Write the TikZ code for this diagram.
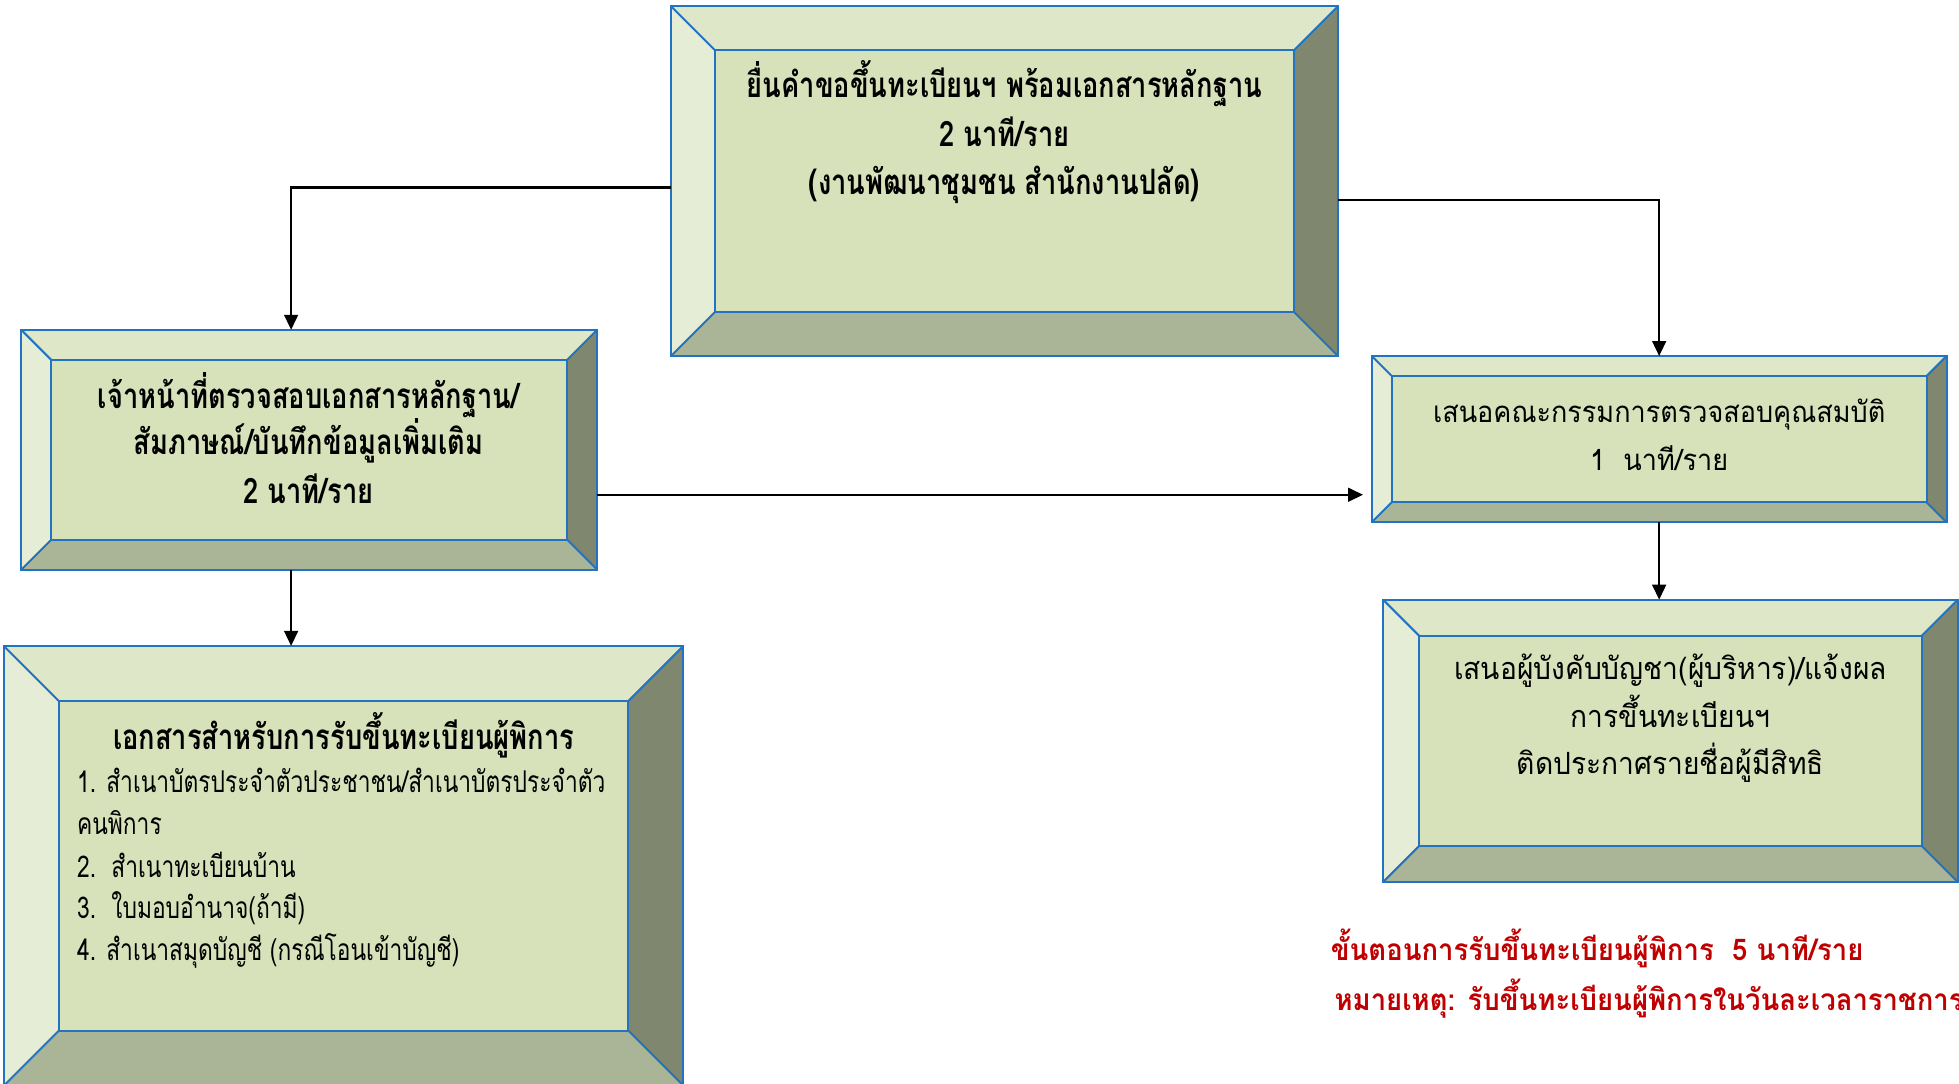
\documentclass[tikz,border=0pt]{standalone}
\usepackage{fontspec}
\usetikzlibrary{arrows.meta,fit,calc}
\newfontfamily\thA[Script=Thai,FakeStretch=0.78]{Loma}
\newfontfamily\thC[Script=Thai,FakeStretch=0.76]{Loma}
\newfontfamily\thB[Script=Thai,FakeStretch=0.92]{Loma}
\definecolor{cTop}{HTML}{DFE7C9}
\definecolor{cLeft}{HTML}{E6EDD6}
\definecolor{cMid}{HTML}{D7E1BA}
\definecolor{cBot}{HTML}{AAB597}
\definecolor{cRight}{HTML}{7F886F}
\definecolor{cLine}{HTML}{2273C1}
\definecolor{cRed}{HTML}{C00000}
\newcommand\bevbox[6]{%
  \pgfmathsetmacro\ax{#2+#6}\pgfmathsetmacro\ay{#3+#6}%
  \pgfmathsetmacro\bx{#4-#6}\pgfmathsetmacro\by{#5-#6}%
  \fill[cTop] (#2,#3) -- (#4,#3) -- (\bx,\ay) -- (\ax,\ay) -- cycle;
  \fill[cLeft] (#2,#3) -- (\ax,\ay) -- (\ax,\by) -- (#2,#5) -- cycle;
  \fill[cBot] (#2,#5) -- (\ax,\by) -- (\bx,\by) -- (#4,#5) -- cycle;
  \fill[cRight] (#4,#3) -- (#4,#5) -- (\bx,\by) -- (\bx,\ay) -- cycle;
  \fill[cMid] (\ax,\ay) rectangle (\bx,\by);
  \draw[bline] (#2,#3) -- (\ax,\ay) (#4,#3) -- (\bx,\ay) (#2,#5) -- (\ax,\by) (#4,#5) -- (\bx,\by);
  \draw[bline] (\ax,\ay) rectangle (\bx,\by);
  \node[boxframe, fit={(#2,#3) (#4,#5)}] (#1) {};
}
\newcommand\txtline[4]{\node[tx,#4] (#1) at (#2) {#3};}
\begin{document}
\begin{tikzpicture}[x=1pt,y=-1pt,
  bline/.style={draw=cLine, line width=1.6pt, line join=miter},
  boxframe/.style={draw=cLine, line width=1.6pt, inner sep=0pt, outer sep=0pt},
  tx/.style={inner sep=0pt, anchor=base, text=black},
  bt/.style={font=\thA\bfseries\fontsize{28}{32}\selectfont},
  rt/.style={font=\thB\fontsize{23.5}{27}\selectfont},
  rtb/.style={font=\thB\fontsize{24.5}{28}\selectfont},
  it/.style={font=\thC\fontsize{24}{28}\selectfont, anchor=base west},
  red/.style={font=\thB\bfseries\fontsize{23.9}{28}\selectfont, text=cRed, anchor=base west},
  arr/.style={line width=1.8pt, -{Triangle[length=12pt,width=11pt]}}]
\clip (0,0) rectangle (1568,867);
\fill[white] (0,0) rectangle (1568,867);

\bevbox{top}{537}{5}{1071}{285}{35}
\bevbox{lbox}{17}{264}{478}{456}{24}
\bevbox{bl}{3}{517}{547}{869}{44}
\bevbox{ra}{1098}{285}{1558}{418}{16}
\bevbox{rb}{1107}{480}{1567}{706}{29}

% top box text
\txtline{ta}{804,78}{ยื่นคำขอขึ้นทะเบียนฯ พร้อมเอกสารหลักฐาน}{bt}
\txtline{tb}{804,117}{2 นาที/ราย}{bt}
\txtline{tc}{804,156}{(งานพัฒนาชุมชน สำนักงานปลัด)}{bt}
% left box text
\txtline{la}{247,327}{เจ้าหน้าที่ตรวจสอบเอกสารหลักฐาน/}{bt}
\txtline{lb}{247,364}{สัมภาษณ์/บันทึกข้อมูลเพิ่มเติม}{bt}
\txtline{lc}{247,403}{2 นาที/ราย}{bt}
% bottom-left box text
\txtline{ba}{275,600}{เอกสารสำหรับการรับขึ้นทะเบียนผู้พิการ}{bt}
\txtline{bb}{61.5,634}{1. สำเนาบัตรประจำตัวประชาชน/สำเนาบัตรประจำตัว}{it}
\txtline{bc}{61.5,668}{คนพิการ}{it}
\txtline{bd}{61.5,702}{2.\ \ สำเนาทะเบียนบ้าน}{it}
\txtline{be}{61.5,735}{3.\ \ ใบมอบอำนาจ(ถ้ามี)}{it}
\txtline{bf}{61.5,769}{4. สำเนาสมุดบัญชี (กรณีโอนเข้าบัญชี)}{it}
% right box 1 text
\txtline{raa}{1328,338.5}{เสนอคณะกรรมการตรวจสอบคุณสมบัติ}{rt}
\txtline{rab}{1328,376.5}{1\ \ นาที/ราย}{rt}
% right box 2 text
\txtline{rba}{1337,544}{เสนอผู้บังคับบัญชา(ผู้บริหาร)/แจ้งผล}{rtb}
\txtline{rbb}{1337,582}{การขึ้นทะเบียนฯ}{rtb}
\txtline{rbc}{1337,620}{ติดประกาศรายชื่อผู้มีสิทธิ}{rtb}
% red notes
\txtline{na}{1065,769}{ขั้นตอนการรับขึ้นทะเบียนผู้พิการ\ \ 5 นาที/ราย}{red}
\txtline{nb}{1068,809}{หมายเหตุ: รับขึ้นทะเบียนผู้พิการในวันละเวลาราชการข}{red}

% connectors
\draw[arr] ([yshift=-5pt]top.west) -| ([xshift=-14.5pt]lbox.north);
\draw[arr] ([yshift=-15pt]top.east) -| (ra.north);
\draw[arr, shorten >=7pt] ([yshift=-36pt]lbox.east) -- ([yshift=-36pt]lbox.east -| ra.west);
\draw[arr] ([xshift=-14.5pt]lbox.south) -- ([xshift=-14.5pt]lbox.south |- bl.north);
\draw[arr] (ra.south) -- (ra.south |- rb.north);
\end{tikzpicture}
\end{document}
